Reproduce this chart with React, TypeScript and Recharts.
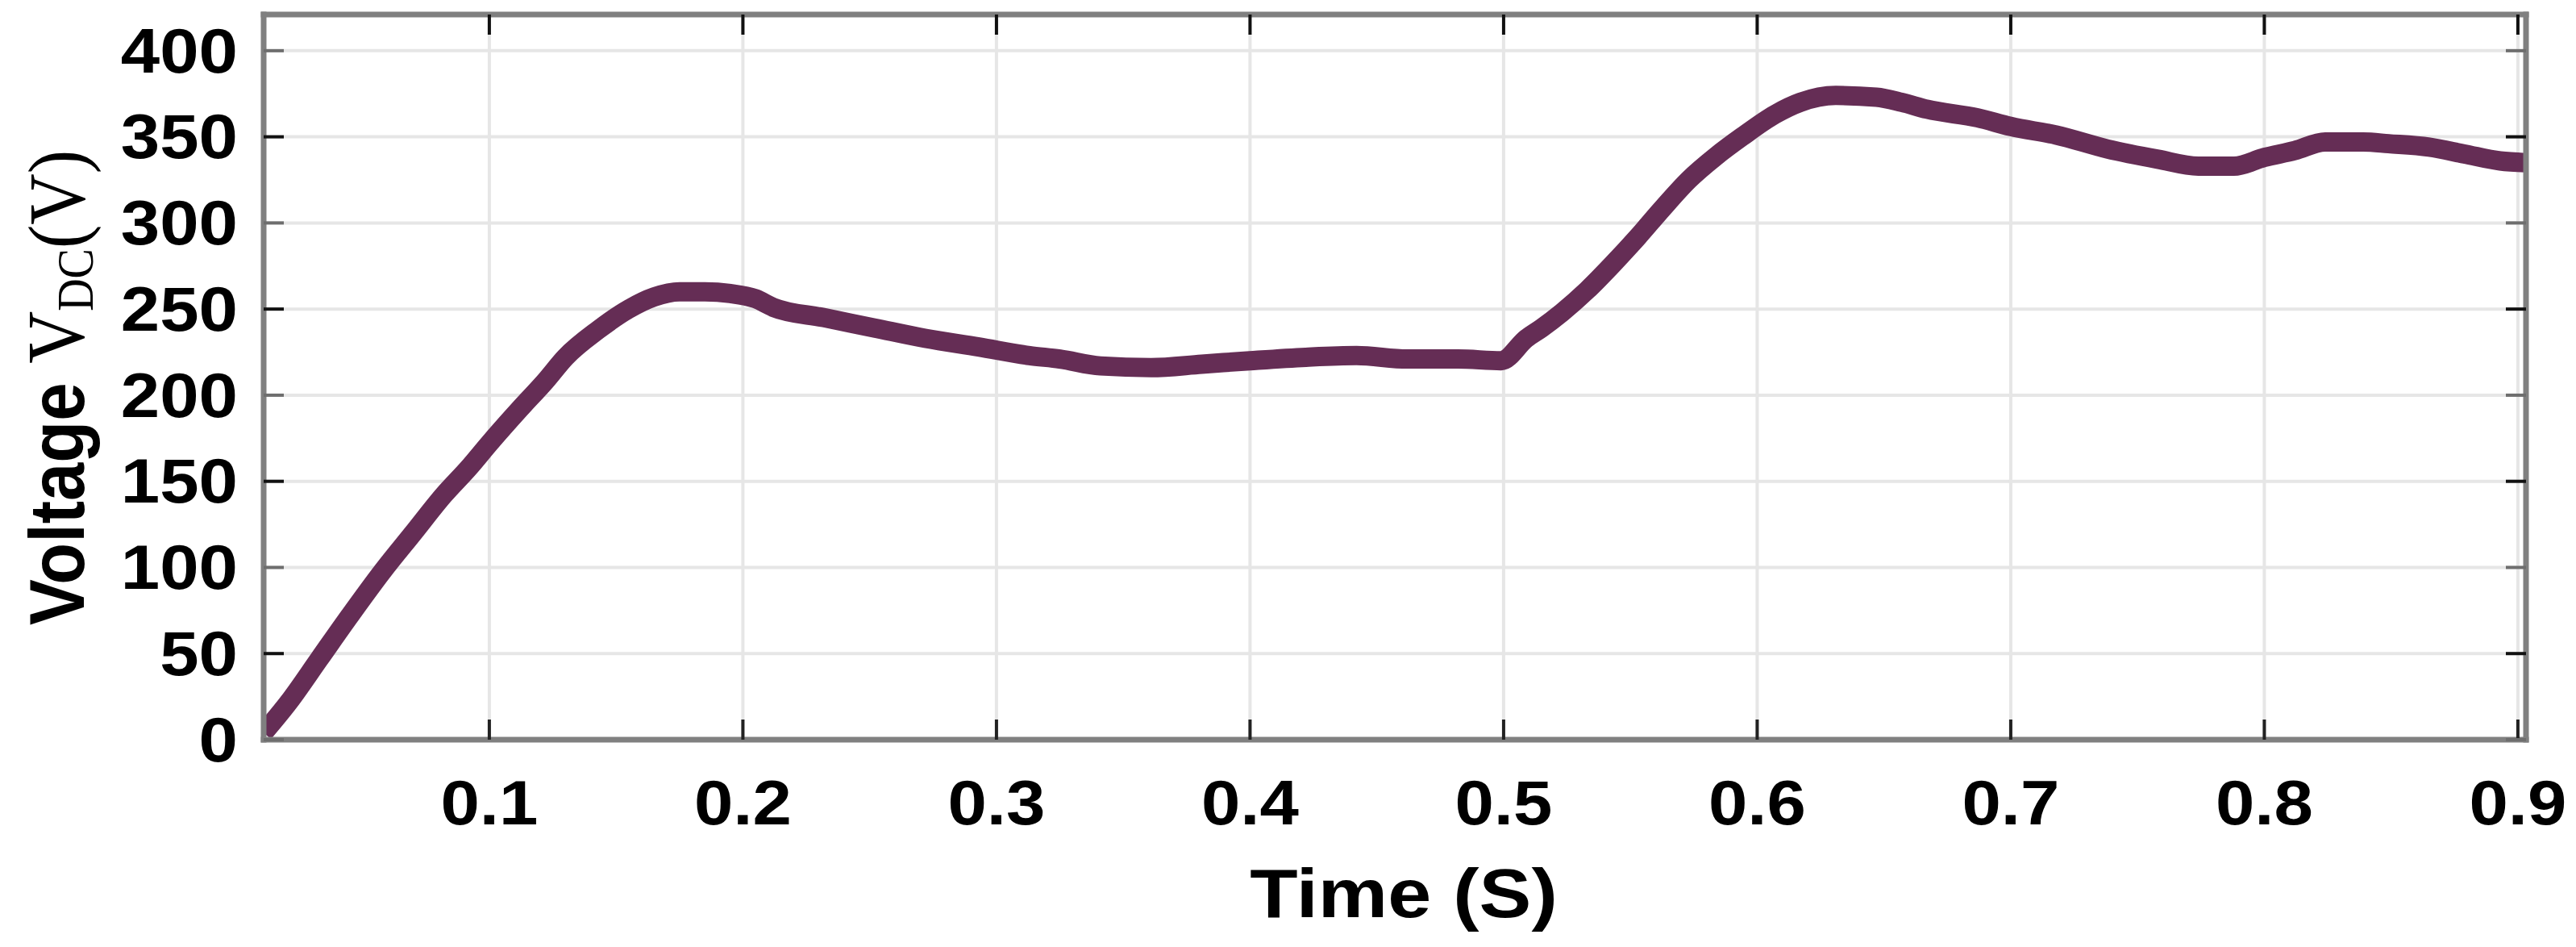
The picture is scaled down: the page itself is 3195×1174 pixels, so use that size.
import { CartesianGrid, Line, LineChart, XAxis, YAxis } from 'recharts'

// DC-link voltage
const timeS = [
  0.011, 0.021, 0.033, 0.045, 0.058, 0.07, 0.082, 0.092, 0.1, 0.112, 0.122, 0.13, 0.143, 0.155,
  0.165, 0.175, 0.185, 0.195, 0.205, 0.212, 0.232, 0.252, 0.272, 0.293, 0.313, 0.325, 0.341,
  0.361, 0.381, 0.4, 0.422, 0.442, 0.462, 0.482, 0.499, 0.509, 0.515, 0.523, 0.533, 0.543, 0.553,
  0.563, 0.573, 0.584, 0.594, 0.607, 0.617, 0.631, 0.647, 0.657, 0.667, 0.687, 0.7, 0.718, 0.738,
  0.758, 0.774, 0.788, 0.8, 0.812, 0.824, 0.839, 0.849, 0.865, 0.879, 0.893, 0.903,
]
const vdc = [
  4, 22, 47, 72, 98, 120, 142, 158, 172, 192, 208, 222, 238, 250, 257, 260, 260, 259, 256, 251,
  245, 239, 233, 228, 223, 221, 217, 216, 218, 220, 222, 223, 221, 221, 220, 233, 239, 248, 261,
  276, 292, 309, 325, 339, 350, 363, 370, 374, 373, 370, 366, 361, 356, 351, 343, 337, 333, 333,
  338, 342, 347, 347, 346, 344, 340, 336, 335,
]

const xTicks = [0.1, 0.2, 0.3, 0.4, 0.5, 0.6, 0.7, 0.8, 0.9]
const yTicks = [0, 50, 100, 150, 200, 250, 300, 350, 400]

const data = timeS.map((t, i) => ({ t, v: vdc[i] }))

const W = 3195
const H = 1174
const PLOT = { left: 327, right: 3133, top: 18, bottom: 917 }
const TICK_LEN = 25
const STRETCH = 1.13
const SANS = '"Liberation Sans", Arial, Helvetica, sans-serif'
const SERIF = '"Liberation Serif", "Times New Roman", serif'
const LINE_COLOR = '#652d55'
const BOX = '#808080'

function LeftTick({ y, payload }: any) {
  const shade = payload.value % 100 === 0 ? '#6e6e6e' : '#111'
  return (
    <g>
      <line x1={PLOT.left} x2={PLOT.left + TICK_LEN} y1={y} y2={y} stroke={shade} strokeWidth={4} />
      <text
        transform={`translate(${PLOT.left - 32},${y}) scale(${STRETCH},1)`}
        textAnchor="end"
        dominantBaseline="central"
        fontFamily={SANS}
        fontWeight="bold"
        fontSize={77}
        fill="#000"
      >
        {payload.value}
      </text>
    </g>
  )
}

function RightTick({ y, payload }: any) {
  const shade = payload.value % 100 === 0 ? '#6e6e6e' : '#111'
  return <line x1={PLOT.right} x2={PLOT.right - TICK_LEN} y1={y} y2={y} stroke={shade} strokeWidth={4} />
}

function BottomTick({ x, payload }: any) {
  return (
    <g>
      <line x1={x} x2={x} y1={PLOT.bottom} y2={PLOT.bottom - TICK_LEN} stroke="#222" strokeWidth={4} />
      <text
        transform={`translate(${x},${PLOT.bottom + 105}) scale(${STRETCH},1)`}
        textAnchor="middle"
        fontFamily={SANS}
        fontWeight="bold"
        fontSize={77}
        fill="#000"
      >
        {payload.value}
      </text>
    </g>
  )
}

function TopTick({ x }: any) {
  return <line x1={x} x2={x} y1={PLOT.top} y2={PLOT.top + TICK_LEN} stroke="#111" strokeWidth={4} />
}

function XTitle() {
  const cx = (PLOT.left + PLOT.right) / 2 + 11
  return (
    <text
      transform={`translate(${cx},1137) scale(${STRETCH},1)`}
      textAnchor="middle"
      fontFamily={SANS}
      fontWeight="bold"
      fontSize={86}
      fill="#000"
    >
      Time (S)
    </text>
  )
}

function YTitle() {
  const cy = (PLOT.top + PLOT.bottom) / 2 + 13
  return (
    <text transform={`translate(104,${cy}) scale(${STRETCH},1) rotate(-90)`} textAnchor="middle" fill="#000">
      <tspan fontFamily={SANS} fontWeight="bold" fontSize={85}>
        Voltage{' '}
      </tspan>
      <tspan fontFamily={SERIF} fontSize={90}>
        V
      </tspan>
      <tspan fontFamily={SERIF} fontSize={56} dy={10}>
        DC
      </tspan>
      <tspan fontFamily={SERIF} fontSize={88} dy={-10}>
        (V)
      </tspan>
    </text>
  )
}

const boxLine = { stroke: BOX, strokeWidth: 7, strokeLinecap: 'square' as const }

export default function App() {
  return (
    <div style={{ position: 'absolute', left: 0, top: 0, width: W, height: H, background: '#fff' }}>
      <LineChart width={W} height={H} data={data} margin={{ top: 0, right: 0, bottom: 0, left: 0 }}>
        <CartesianGrid stroke="#e6e6e6" strokeWidth={4} />
        <XAxis
          dataKey="t"
          type="number"
          domain={[0.011, 0.9032]}
          ticks={xTicks}
          interval={0}
          height={H - PLOT.bottom}
          tickLine={false}
          allowDataOverflow
          axisLine={boxLine}
          tick={<BottomTick />}
          label={<XTitle />}
        />
        <XAxis
          xAxisId="top"
          orientation="top"
          dataKey="t"
          type="number"
          domain={[0.011, 0.9032]}
          ticks={xTicks}
          interval={0}
          height={PLOT.top}
          tickLine={false}
          allowDataOverflow
          axisLine={boxLine}
          tick={<TopTick />}
        />
        <YAxis
          type="number"
          domain={[0, 421]}
          ticks={yTicks}
          interval={0}
          width={PLOT.left}
          tickLine={false}
          allowDataOverflow
          axisLine={boxLine}
          tick={<LeftTick />}
          label={<YTitle />}
        />
        <YAxis
          yAxisId="right"
          orientation="right"
          type="number"
          domain={[0, 421]}
          ticks={yTicks}
          interval={0}
          width={W - PLOT.right}
          tickLine={false}
          allowDataOverflow
          axisLine={boxLine}
          tick={<RightTick />}
        />
        <Line
          dataKey="v"
          type="monotone"
          stroke={LINE_COLOR}
          strokeWidth={24}
          dot={false}
          isAnimationActive={false}
        />
      </LineChart>
    </div>
  )
}
